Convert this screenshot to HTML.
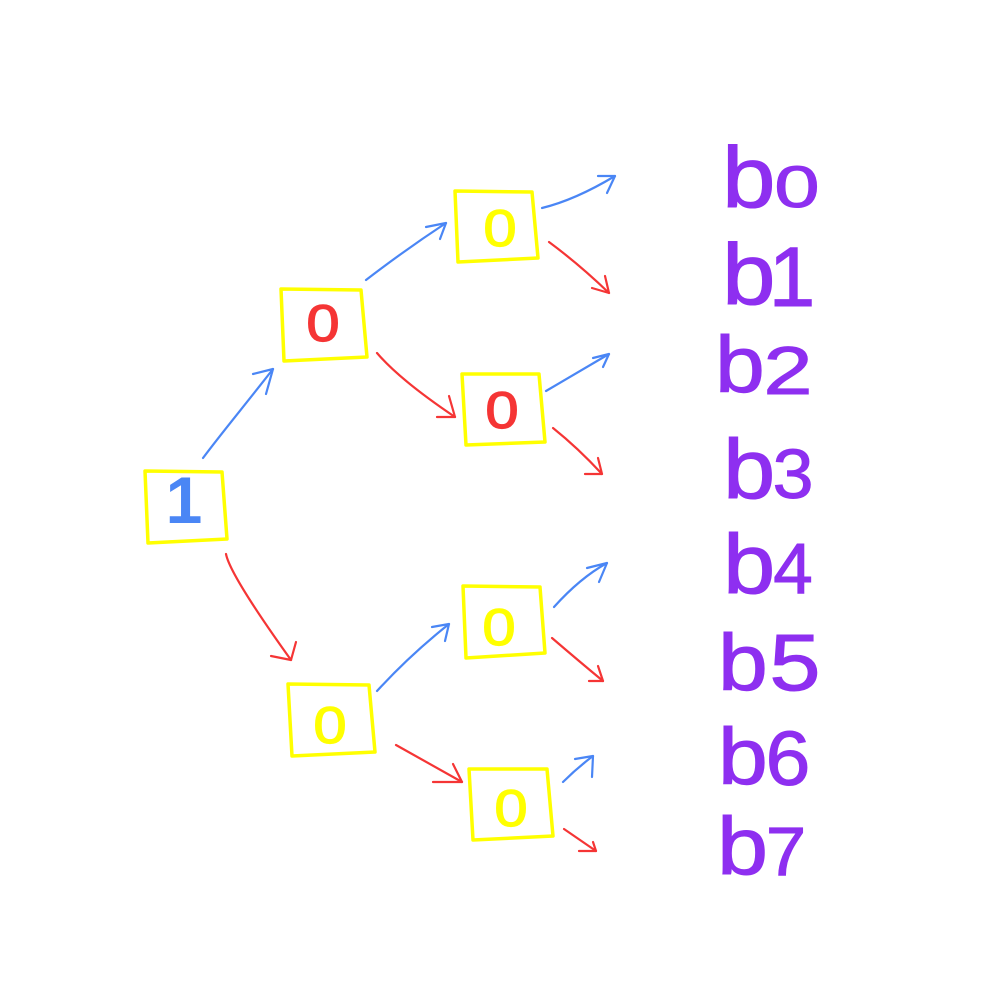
<!DOCTYPE html>
<html>
<head>
<meta charset="utf-8">
<style>
  html,body{margin:0;padding:0;background:#fff;}
  svg{display:block;}
</style>
</head>
<body>
<svg width="1000" height="1000" viewBox="0 0 1000 1000" xmlns="http://www.w3.org/2000/svg">
  <rect width="1000" height="1000" fill="#ffffff"/>
  <!-- boxes -->
  <g fill="none" stroke="#ffff00" stroke-width="3.5" stroke-linejoin="round" stroke-linecap="round">
    <path d="M145,471 L222,472 L227,539 L148,543 Z"/>
    <path d="M281,289 L361,290 L367,357 L284,361 Z"/>
    <path d="M455,191 L532,192 L538,258 L458,262 Z"/>
    <path d="M462,374 L539,374 L545,442 L466,445 Z"/>
    <path d="M288,684 L369,685 L375,752 L292,756 Z"/>
    <path d="M463,586 L540,587 L545,653 L466,658 Z"/>
    <path d="M469,769 L547,769 L553,836 L473,840 Z"/>
  </g>
  <!-- box digits -->
  <g font-family="Liberation Sans, sans-serif" text-anchor="middle">
    <text transform="translate(184,523)" font-size="66" font-weight="bold" fill="#4a86f5">1</text>
    <text transform="translate(323,341) scale(1.15,1)" font-size="52" fill="#f53535" stroke="#f53535" stroke-width="1.2">0</text>
    <text transform="translate(500,246) scale(1.15,1)" font-size="52" fill="#ffff00" stroke="#ffff00" stroke-width="1.2">0</text>
    <text transform="translate(502,428) scale(1.15,1)" font-size="52" fill="#f53535" stroke="#f53535" stroke-width="1.2">0</text>
    <text transform="translate(330,743) scale(1.15,1)" font-size="52" fill="#ffff00" stroke="#ffff00" stroke-width="1.2">0</text>
    <text transform="translate(499,645) scale(1.15,1)" font-size="52" fill="#ffff00" stroke="#ffff00" stroke-width="1.2">0</text>
    <text transform="translate(511,826) scale(1.15,1)" font-size="52" fill="#ffff00" stroke="#ffff00" stroke-width="1.2">0</text>
  </g>
  <!-- blue arrows -->
  <g fill="none" stroke="#4a86f5" stroke-width="2.2" stroke-linecap="round" stroke-linejoin="round">
    <path d="M203,458 C220,435 245,405 273,369"/><path d="M253,374 L273,369 L266,394"/>
    <path d="M366,280 Q405,250 446,223"/><path d="M426,227 L446,223 L440,239"/>
    <path d="M542,208 Q575,200 615,176"/><path d="M598,176 L615,176 L607,193"/>
    <path d="M546,391 L609,354"/><path d="M593,358 L609,354 L603,367"/>
    <path d="M377,691 Q410,655 449,624"/><path d="M432,627 L449,624 L445,641"/>
    <path d="M554,607 Q580,578 607,563"/><path d="M587,568 L607,563 L599,582"/>
    <path d="M563,782 Q577,768 593,756"/><path d="M575,759 L593,756 L592,777"/>
  </g>
  <!-- red arrows -->
  <g fill="none" stroke="#f53535" stroke-width="2.2" stroke-linecap="round" stroke-linejoin="round">
    <path d="M377,353 Q400,380 455,417"/><path d="M437,417 L455,417 L449,396"/>
    <path d="M549,242 Q580,265 609,293"/><path d="M592,288 L609,293 L605,276"/>
    <path d="M553,428 Q578,448 602,474"/><path d="M585,474 L602,474 L598,458"/>
    <path d="M226,554 Q230,575 291,660"/><path d="M271,656 L291,660 L296,642"/>
    <path d="M552,638 Q580,662 603,681"/><path d="M589,681 L603,681 L598,666"/>
    <path d="M396,745 L462,782"/><path d="M433,782 L462,782 L453,764"/>
    <path d="M564,829 L596,851"/><path d="M579,851 L596,851 L593,842"/>
  </g>
  <!-- labels -->
  <g font-family="Liberation Sans, sans-serif" fill="#8e2ff0" stroke="#8e2ff0" stroke-width="1">
    <text transform="translate(722,207) scale(1.12,1)" font-size="86">b</text>
    <text transform="translate(797,207) scale(1.4,1)" font-size="58" text-anchor="middle">0</text>

    <text transform="translate(722,304) scale(1.12,1)" font-size="86">b</text>
    <text transform="translate(792,306)" font-size="84" text-anchor="middle">1</text>

    <text transform="translate(715,392) scale(1.12,1)" font-size="80">b</text>
    <text transform="translate(788,394) scale(1.3,1)" font-size="68" text-anchor="middle">2</text>

    <text transform="translate(723,498) scale(1.12,1)" font-size="84">b</text>
    <text transform="translate(793,498) scale(1.05,1)" font-size="70" text-anchor="middle">3</text>

    <text transform="translate(723,593) scale(1.12,1)" font-size="84">b</text>
    <text transform="translate(793,593)" font-size="71" text-anchor="middle">4</text>

    <text transform="translate(718,690) scale(1.12,1)" font-size="80">b</text>
    <text transform="translate(795,690) scale(1.15,1)" font-size="80" text-anchor="middle">5</text>

    <text transform="translate(718,784) scale(1.12,1)" font-size="80">b</text>
    <text transform="translate(788,785) scale(1.05,1)" font-size="77" text-anchor="middle">6</text>

    <text transform="translate(717,874) scale(1.12,1)" font-size="82">b</text>
    <text transform="translate(786,875) scale(1.05,1)" font-size="69" text-anchor="middle">7</text>
  </g>
</svg>
</body>
</html>
